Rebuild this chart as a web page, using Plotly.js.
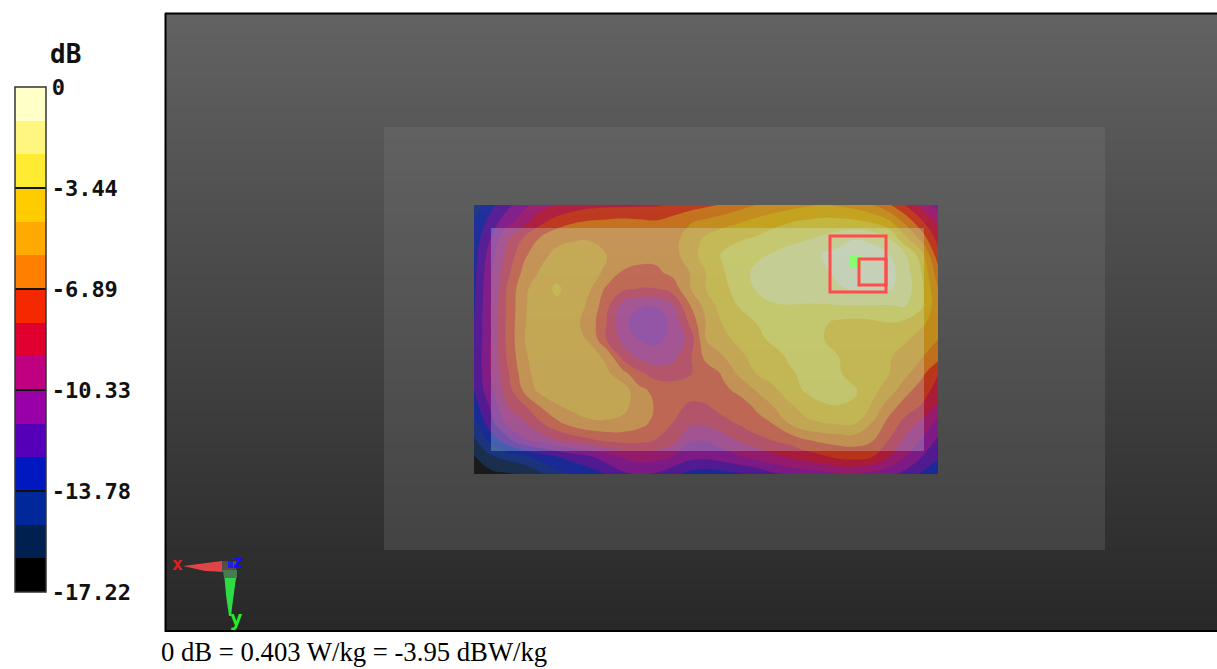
<!DOCTYPE html>
<html><head><meta charset="utf-8">
<script src="https://cdn.plot.ly/plotly-3.0.1.min.js"></script>
<style>html,body{margin:0;padding:0;background:#fff;overflow:hidden}</style>
</head><body><div id="chart" style="width:1217px;height:669px"></div>
<script>
// Colour bands, from 0 dB (top of the bar) to -17.22 dB (bottom)
const bandColors = ['#FFFFC8','#FFF680','#FFEB32','#FFCC00','#FFAA00','#FF8000','#F52800','#E00030','#BF0080','#9A00A8','#5500B8','#0018C0','#00289A','#002050','#000000'];
const colorbarTicks = [0,-3.44,-6.89,-10.33,-13.78,-17.22];
const colorbarLabels = ['0','-3.44','-6.89','-10.33','-13.78','-17.22'];
const dbMin = -17.22;
const bandSize = 17.22/15;
// Field, in colour-band units below 0 dB (row = y, column = x)
const fieldBands = [
[12.7,11.3,10.3,9.3,8.4,8.0,7.6,7.3,7.2,7.2,7.15,7.1,6.9,6.5,6.2,5.9,5.4,5.0,4.7,4.4,4.15,4.0,4.1,4.4,4.9,5.8,7.0,8.3,9.5],
[11.9,10.6,9.4,8.4,7.3,6.5,6.1,5.9,5.8,5.7,5.8,5.9,5.5,5.1,4.75,4.4,4.1,3.7,3.3,3.05,2.85,2.7,2.7,2.8,3.1,3.7,5.2,6.8,8.3],
[11.6,10.0,8.1,6.9,5.9,5.3,5.1,5.1,5.25,5.4,5.5,5.5,5.3,4.6,3.8,3.3,3.1,2.9,2.6,2.3,2.1,1.8,1.45,1.05,1.25,1.95,3.7,5.3,7.4],
[11.4,9.5,7.7,6.2,5.3,4.7,4.5,4.5,5.0,5.5,5.7,5.7,5.35,4.55,3.5,2.9,2.5,2.2,1.9,1.6,1.3,0.95,0.6,0.2,0.5,0.9,1.85,3.5,6.6],
[11.3,9.2,7.3,5.75,4.9,4.3,4.4,4.6,5.2,6.1,6.25,6.2,5.7,5.0,4.0,3.1,2.4,1.8,1.5,1.3,1.3,1.2,0.8,0.4,0.3,0.6,1.5,3.0,5.6],
[11.2,9.1,6.9,5.25,4.4,3.85,4.4,4.95,6.2,6.8,7.05,7.05,6.6,5.1,4.0,3.3,2.6,1.95,1.6,1.4,1.3,1.2,1.1,0.9,0.75,0.85,1.5,2.7,5.0],
[11.1,9.0,6.85,5.15,4.4,4.2,4.5,5.2,6.7,8.5,8.9,8.95,8.05,6.1,4.6,3.55,2.95,2.4,2.1,2.05,2.1,2.1,2.05,2.05,2.05,2.05,1.95,2.8,4.7],
[11.0,9.0,6.8,5.1,4.4,4.4,4.7,5.45,7.0,8.75,9.5,9.55,8.75,6.85,4.95,3.95,3.45,3.0,2.6,2.4,2.35,2.85,3.2,3.3,3.2,3.0,3.2,3.8,4.55],
[11.0,9.0,6.8,5.05,4.35,4.2,4.55,5.15,7.0,8.3,9.05,9.2,8.75,7.7,5.0,4.3,3.75,3.25,2.85,2.65,2.6,2.95,3.3,3.5,3.55,3.5,3.85,4.4,5.0],
[10.9,8.9,6.9,5.2,4.4,4.2,4.2,4.55,5.25,7.45,8.3,8.65,8.3,7.2,5.7,5.05,4.25,3.65,3.3,2.9,2.7,2.75,3.0,3.4,3.6,3.85,4.4,4.9,5.6],
[10.9,9.0,7.2,5.45,4.45,4.15,4.15,4.15,4.8,5.7,6.8,7.45,7.5,7.1,6.5,5.9,4.8,4.0,3.5,3.1,2.85,2.7,2.9,3.4,3.7,3.95,4.7,5.7,6.95],
[11.0,9.3,7.5,5.85,4.7,4.2,4.15,4.1,4.15,4.5,5.75,6.3,6.45,6.5,6.35,6.2,5.8,4.95,4.3,3.4,2.9,2.6,2.6,2.9,3.7,4.4,5.6,6.5,7.4],
[11.5,9.9,8.05,7.2,6.0,5.15,4.7,4.45,4.35,4.75,5.5,6.1,6.6,7.2,7.15,6.55,6.4,5.9,5.05,4.25,3.55,3.15,3.05,3.15,4.1,5.5,6.45,7.1,8.3],
[12.4,10.4,8.85,8.2,7.15,6.25,5.6,5.2,5.2,5.3,5.7,6.3,7.05,7.75,7.8,7.4,6.9,6.3,6.0,5.0,4.3,4.05,3.9,3.95,5.05,6.3,7.35,8.25,9.3],
[13.2,11.7,10.4,9.2,8.7,8.1,7.6,7.2,6.8,6.7,6.75,7.05,7.6,8.9,8.95,8.5,7.9,7.45,7.0,6.7,6.1,5.8,5.65,5.6,5.9,7.0,8.2,9.1,10.2],
[14.1,13.2,12.7,12.3,11.6,11.1,10.6,10.2,9.5,8.9,8.6,8.7,9.05,9.7,9.75,9.5,9.1,8.7,8.3,7.9,7.55,7.2,6.8,6.7,7.0,8.0,9.0,10.0,10.9],
[14.6,14.3,14.1,13.9,13.2,12.3,11.9,11.5,10.9,10.2,9.9,10.1,10.7,11.3,11.5,11.4,11.1,10.8,10.2,9.8,9.6,9.4,9.1,9.05,9.3,9.7,10.3,11.1,11.6]
];
// Grey level of the backdrop, top to bottom
const backdropShades = [98,97,96,95,94,93,92,91,90,89,88,87,86,85,84,83,82,81,80,79,78,77,76,75,74,73,72,71,70,69,68,67,66,65,64,63,62,61,60,59,58,57,56,55,54,53,52,51,50,49,48,47,46,45,44,43,42,41,40];

const fieldDb = fieldBands.map(r => r.map(u => -u*bandSize));
const n = bandColors.length;
const stepped = [];
bandColors.slice().reverse().forEach((c,i) => { stepped.push([i/n,c]); stepped.push([(i+1)/n,c]); });
const gray = [[0,'#000'],[1,'#fff']];
const veil = 'rgba(128,128,128,0.25)';
const mono = 'DejaVu Sans Mono';

const traces = [
 {type:'heatmap', z:backdropShades.map(v=>[v]), x0:691.5, dx:1051, y0:14+617/backdropShades.length/2, dy:617/backdropShades.length,
  colorscale:gray, zmin:0, zmax:255, showscale:false, hoverinfo:'skip'},
 {type:'heatmap', z:[[1]], x0:744.5, dx:721, y0:338.5, dy:423,
  colorscale:[[0,veil],[1,veil]], zmin:0, zmax:1, showscale:false, hoverinfo:'skip'},
 {type:'contour', z:fieldDb, x0:474, dx:464/28, y0:205, dy:269/16,
  zmin:dbMin, zmax:0, zauto:false, autocontour:false,
  contours:{coloring:'fill', showlines:false, start:dbMin+bandSize, end:-bandSize+1e-6, size:bandSize},
  line:{width:0, smoothing:1.3}, opacity:0.64, colorscale:stepped,
  colorbar:{x:15/1217, xanchor:'left', xpad:0, y:1-87/669, yanchor:'top', ypad:0,
    thicknessmode:'pixels', thickness:31, lenmode:'pixels', len:505,
    tickmode:'array', tickvals:colorbarTicks, ticktext:colorbarLabels,
    ticks:'inside', ticklen:31, tickwidth:1.5, tickcolor:'#111',
    tickfont:{family:mono, size:22, color:'#111', weight:'bold'},
    outlinecolor:'#333', outlinewidth:1.5, borderwidth:0},
  hoverinfo:'skip'}
];
const red = '#FF4D4D';
const poly = (path,fill) => ({type:'path', xref:'x', yref:'y', path, fillcolor:fill, line:{width:0}, layer:'above'});
const layout = {
 width:1217, height:669, margin:{l:0,r:0,t:0,b:0,autoexpand:false}, paper_bgcolor:'#fff', plot_bgcolor:'#fff', showlegend:false,
 xaxis:{range:[0,1217], visible:false, fixedrange:true},
 yaxis:{range:[669,0], visible:false, fixedrange:true},
 shapes:[
  {type:'rect',xref:'x',yref:'y',x0:491,x1:924,y0:228,y1:451,fillcolor:'rgba(205,255,255,0.25)',line:{width:0},layer:'above'},
  {type:'rect',xref:'x',yref:'y',x0:850,x1:862,y0:256,y1:268,fillcolor:'#86FF72',line:{width:0},layer:'above'},
  {type:'rect',xref:'x',yref:'y',x0:830,x1:886,y0:236,y1:292,line:{color:red,width:3},layer:'above'},
  {type:'rect',xref:'x',yref:'y',x0:859,x1:886,y0:259,y1:285,line:{color:red,width:3},layer:'above'},
  poly('M183,566 L222,561 L226,572 L205,571 Z','#E04545'),
  poly('M222,561 L236,561 L236,572 L222,572 Z','#5a4a4a'),
  poly('M224,572 L237,571 L233,600 L231,616 L229,616 L226,595 Z','#2FDB45'),
  poly('M223,570 L237,570 L237,578 L224,578 Z','#4A7A52'),
  poly('M228,561 L233,561 L233,568 L228,568 Z','#1E22E0'),
  {type:'line',xref:'x',yref:'y',x0:165,x1:1217,y0:13.5,y1:13.5,line:{color:'#000',width:2},layer:'above'},
  {type:'line',xref:'x',yref:'y',x0:165,x1:1217,y0:631,y1:631,line:{color:'#000',width:2},layer:'above'},
  {type:'line',xref:'x',yref:'y',x0:165.5,x1:165.5,y0:13,y1:632,line:{color:'#000',width:2},layer:'above'}
 ],
 annotations:[
  {xref:'x',yref:'y',x:65,y:54,text:'dB',showarrow:false,font:{family:mono,size:26,color:'#111',weight:'bold'}},
  {xref:'x',yref:'y',x:159,y:652,xanchor:'left',text:'0 dB = 0.403 W/kg = -3.95 dBW/kg',showarrow:false,font:{family:'Liberation Serif',size:26.7,color:'#000'}},
  {xref:'x',yref:'y',x:177.5,y:563,text:'x',showarrow:false,font:{family:mono,size:18,color:'#E02020',weight:'bold'}},
  {xref:'x',yref:'y',x:237.5,y:561,text:'z',showarrow:false,font:{family:mono,size:18,color:'#1010FF',weight:'bold'}},
  {xref:'x',yref:'y',x:236,y:619,text:'y',showarrow:false,font:{family:mono,size:21,color:'#20F020',weight:'bold'}}
 ]
};
Plotly.newPlot('chart',traces,layout,{displayModeBar:false,staticPlot:true});
</script></body></html>
